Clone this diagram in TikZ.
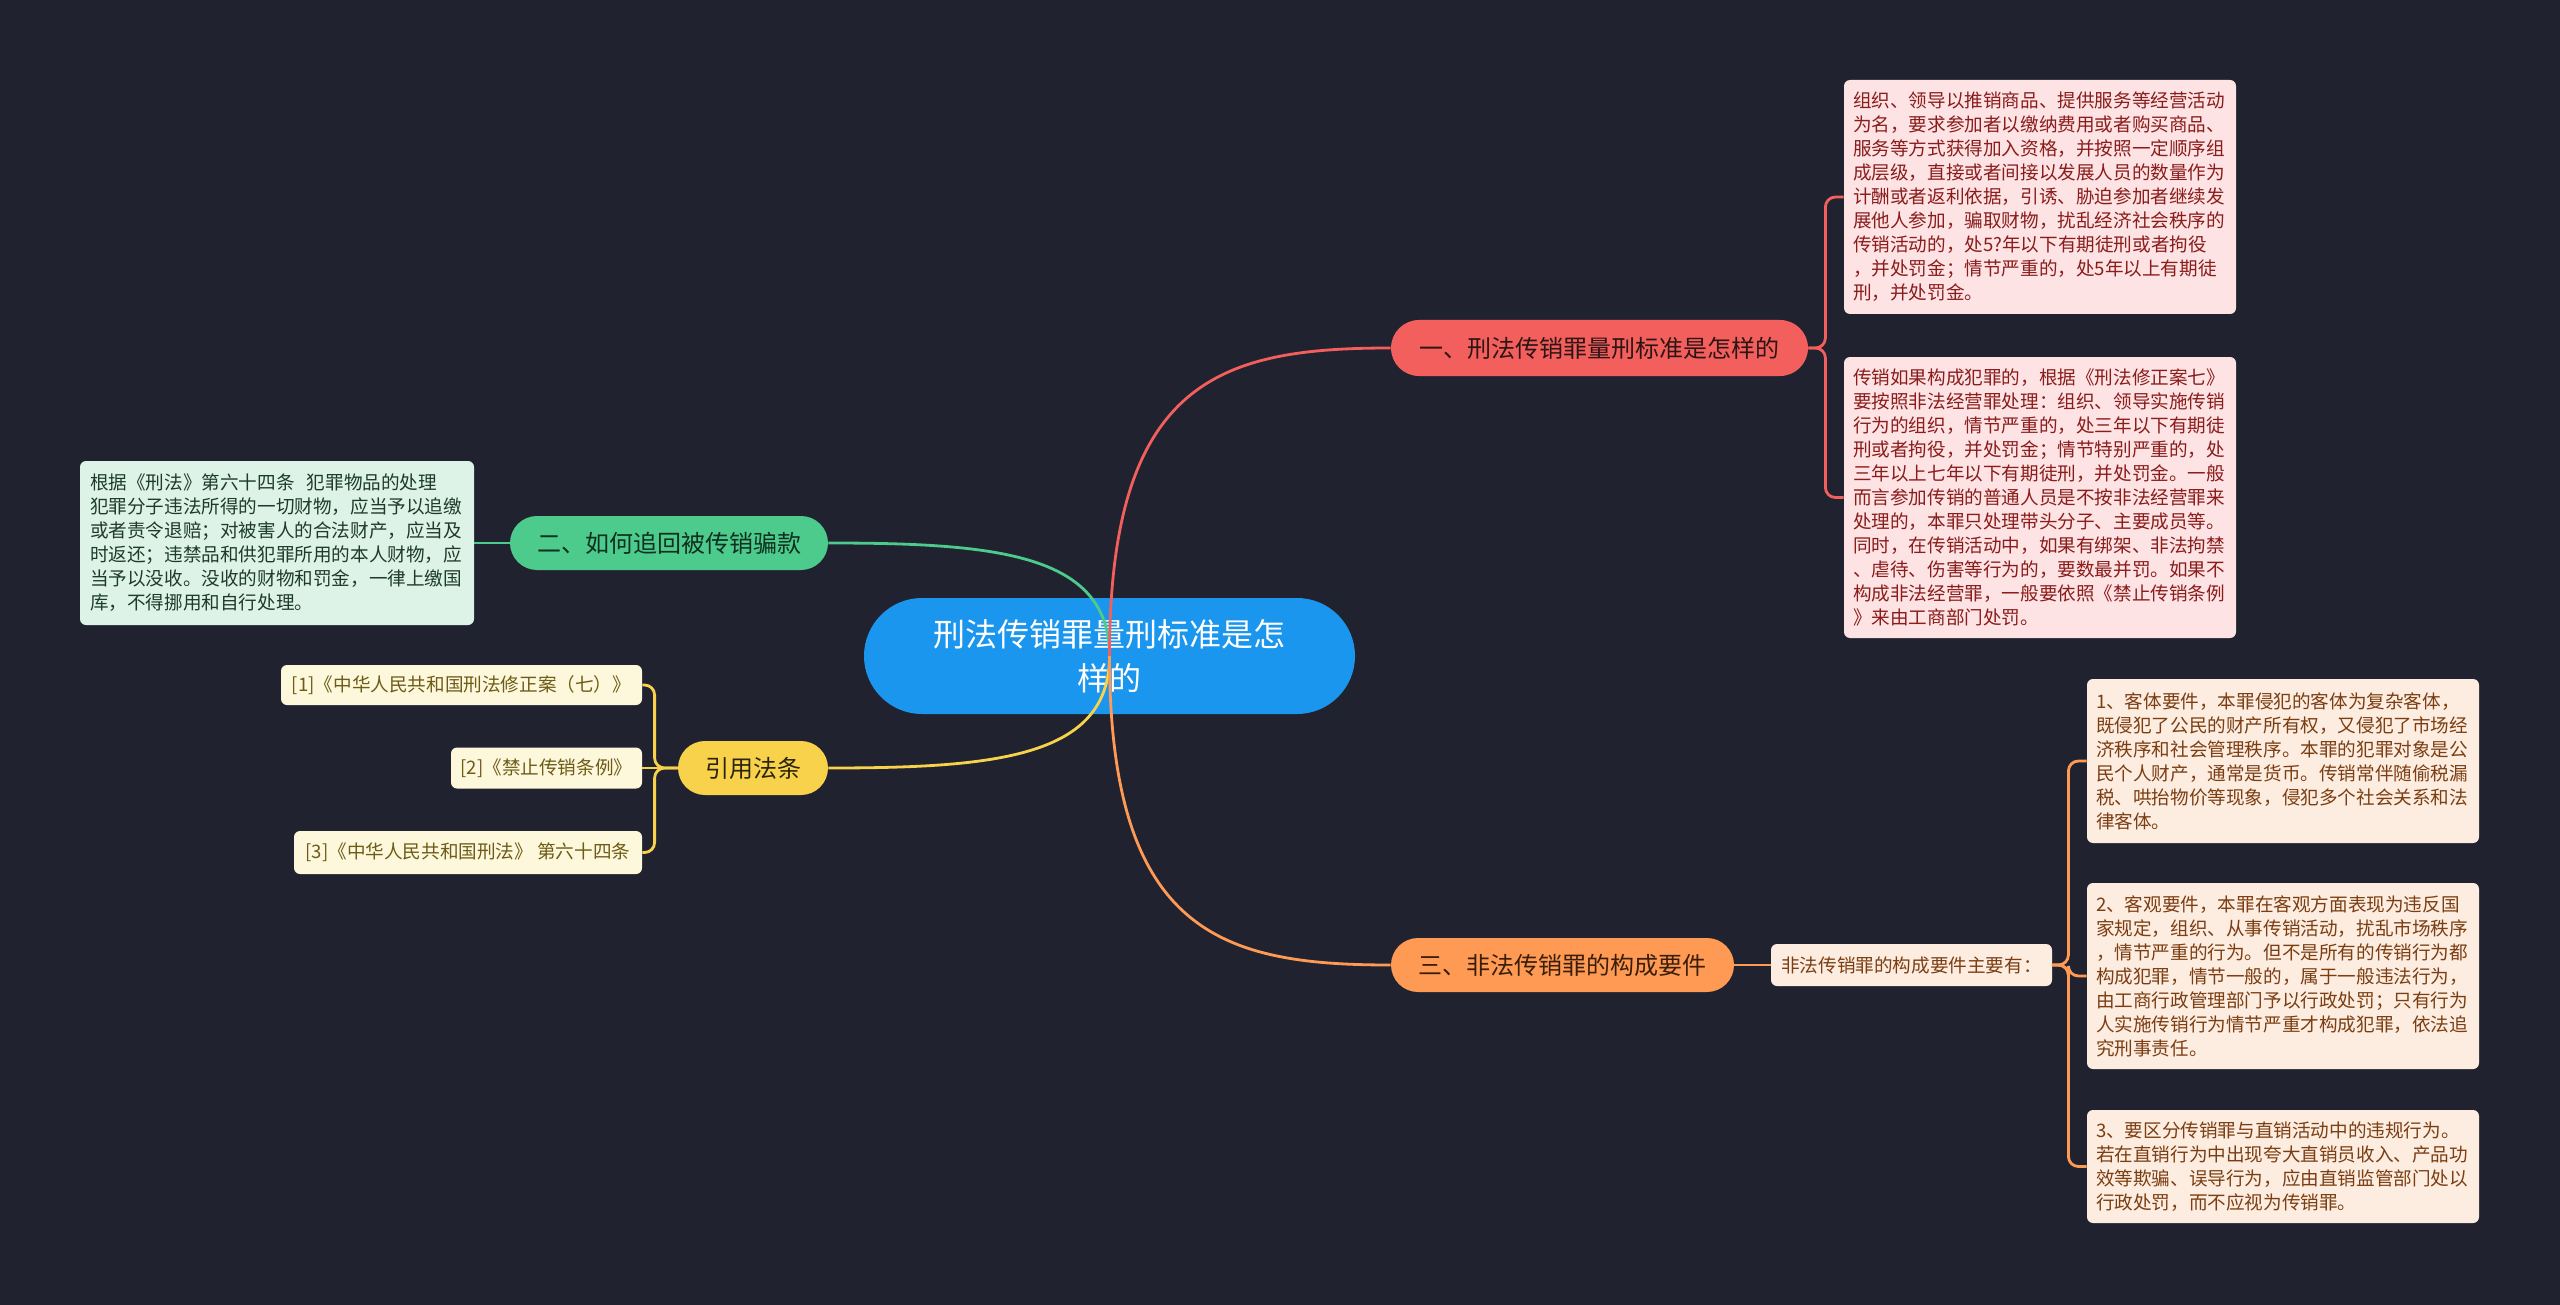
\documentclass[tikz,border=0pt]{standalone}
\usepackage{fontspec}
\setmainfont{Noto Sans CJK SC}
\definecolor{bg}{HTML}{20232F}
\definecolor{cblue}{HTML}{1A96EE}
\definecolor{cred}{HTML}{F25F5C}
\definecolor{corange}{HTML}{FF9A55}
\definecolor{cgreen}{HTML}{4CCB8D}
\definecolor{cyellow}{HTML}{F8D24A}
\definecolor{redtext}{HTML}{2E1515}
\definecolor{orangetext}{HTML}{3A1E08}
\definecolor{greentext}{HTML}{10301F}
\definecolor{yellowtext}{HTML}{2A2410}
\definecolor{pinkfill}{HTML}{FDE3E3}
\definecolor{pinktext}{HTML}{8A1C1C}
\definecolor{peachfill}{HTML}{FDECE0}
\definecolor{peachtext}{HTML}{7B3E12}
\definecolor{mintfill}{HTML}{DDF3E7}
\definecolor{minttext}{HTML}{1D3B2A}
\definecolor{creamfill}{HTML}{FDF7DC}
\definecolor{creamtext}{HTML}{6D5B16}
\begin{document}
\begin{tikzpicture}[x=0.5pt,y=-0.5pt,
  pill/.style={inner xsep=0pt, inner ysep=0pt, align=center, font=\fontsize{12}{14}\selectfont},
  box/.style={rounded corners=3pt, inner xsep=4.5pt, inner ysep=0pt, align=left, text width=187pt, font=\fontsize{9.3}{12}\selectfont},
  refbox/.style={rounded corners=3pt, inner xsep=0pt, inner ysep=0pt, align=center, font=\fontsize{9.3}{12}\selectfont},
  link/.style={line width=1.4pt},
  bracket/.style={line width=1.4pt, rounded corners=5pt}
  ]
\useasboundingbox (0,0) rectangle (2560,1305);
\fill[bg] (0,0) rectangle (2560,1305);

% central node
\node[fill=cblue, text=white, rounded corners=29pt, minimum width=245.5pt, minimum height=58pt,
  inner sep=0pt, align=center, font=\fontsize{16}{22}\selectfont] (c) at (1109.5,656)
  {刑法传销罪量刑标准是怎\\样的};

% main branches
\node[pill, fill=cred, text=redtext, rounded corners=14pt, minimum width=208.5pt, minimum height=28pt] (n1) at (1599.5,348) {一、刑法传销罪量刑标准是怎样的};
\node[pill, fill=corange, text=orangetext, rounded corners=13.5pt, minimum width=171.5pt, minimum height=27pt] (n3) at (1562.5,965) {三、非法传销罪的构成要件};
\node[pill, fill=cgreen, text=greentext, rounded corners=13.5pt, minimum width=159pt, minimum height=27pt] (n2) at (669,543) {二、如何追回被传销骗款};
\node[pill, fill=cyellow, text=yellowtext, rounded corners=13.5pt, minimum width=75pt, minimum height=27pt] (n4) at (753,768) {引用法条};

% branch 1 children
\node[box, fill=pinkfill, text=pinktext, minimum height=117pt] (r1) at (2040,197) {组织、领导以推销商品、提供服务等经营活动\\为名，要求参加者以缴纳费用或者购买商品、\\服务等方式获得加入资格，并按照一定顺序组\\成层级，直接或者间接以发展人员的数量作为\\计酬或者返利依据，引诱、胁迫参加者继续发\\展他人参加，骗取财物，扰乱经济社会秩序的\\传销活动的，处5?年以下有期徒刑或者拘役\\，并处罚金；情节严重的，处5年以上有期徒\\刑，并处罚金。};
\node[box, fill=pinkfill, text=pinktext, minimum height=140.5pt] (r2) at (2040,497.5) {传销如果构成犯罪的，根据《刑法修正案七》\\要按照非法经营罪处理：组织、领导实施传销\\行为的组织，情节严重的，处三年以下有期徒\\刑或者拘役，并处罚金；情节特别严重的，处\\三年以上七年以下有期徒刑，并处罚金。一般\\而言参加传销的普通人员是不按非法经营罪来\\处理的，本罪只处理带头分子、主要成员等。\\同时，在传销活动中，如果有绑架、非法拘禁\\、虐待、伤害等行为的，要数最并罚。如果不\\构成非法经营罪，一般要依照《禁止传销条例\\》来由工商部门处罚。};

% branch 3 children
\node[refbox, fill=peachfill, text=peachtext, minimum width=140.5pt, minimum height=21pt] (f0) at (1911.5,965) {非法传销罪的构成要件主要有：};
\node[box, fill=peachfill, text=peachtext, minimum height=82pt] (fa) at (2283,761) {1、客体要件，本罪侵犯的客体为复杂客体，\\既侵犯了公民的财产所有权，又侵犯了市场经\\济秩序和社会管理秩序。本罪的犯罪对象是公\\民个人财产，通常是货币。传销常伴随偷税漏\\税、哄抬物价等现象，侵犯多个社会关系和法\\律客体。};
\node[box, fill=peachfill, text=peachtext, minimum height=93pt] (fb) at (2283,976) {2、客观要件，本罪在客观方面表现为违反国\\家规定，组织、从事传销活动，扰乱市场秩序\\，情节严重的行为。但不是所有的传销行为都\\构成犯罪，情节一般的，属于一般违法行为，\\由工商行政管理部门予以行政处罚；只有行为\\人实施传销行为情节严重才构成犯罪，依法追\\究刑事责任。};
\node[box, fill=peachfill, text=peachtext, minimum height=56.5pt] (fc) at (2283,1166.5) {3、要区分传销罪与直销活动中的违规行为。\\若在直销行为中出现夸大直销员收入、产品功\\效等欺骗、误导行为，应由直销监管部门处以\\行政处罚，而不应视为传销罪。};

% branch 2 child
\node[box, fill=mintfill, text=minttext, inner xsep=5pt, minimum height=82pt] (g0) at (277,543) {根据《刑法》第六十四条~~犯罪物品的处理\\犯罪分子违法所得的一切财物，应当予以追缴\\或者责令退赔；对被害人的合法财产，应当及\\时返还；违禁品和供犯罪所用的本人财物，应\\当予以没收。没收的财物和罚金，一律上缴国\\库，不得挪用和自行处理。};

% references
\node[refbox, fill=creamfill, text=creamtext, minimum width=180.5pt, minimum height=20pt] (y1) at (461.5,685) {\relax[1]《中华人民共和国刑法修正案（七）》};
\node[refbox, fill=creamfill, text=creamtext, minimum width=95.5pt, minimum height=20.5pt] (y2) at (546.5,768) {\relax[2]《禁止传销条例》};
\node[refbox, fill=creamfill, text=creamtext, minimum width=174pt, minimum height=21.5pt] (y3) at (468,852.5) {\relax[3]《中华人民共和国刑法》 第六十四条};

% main curves
\draw[link, cgreen] (c.center) .. controls +(0,-102) and +(169,0) .. (n2.east);
\draw[link, cyellow] (c.center) .. controls +(0,101) and +(169,0) .. (n4.east);
\draw[link, cred] (c.center) .. controls +(0,-277) and +(-169,0) .. (n1.west);
\draw[link, corange] (c.center) .. controls +(0,277) and +(-169,0) .. (n3.west);

% brackets
\draw[bracket, cred] (n1.east) -- ++(17,0) |- (r1.west);
\draw[bracket, cred] (n1.east) -- ++(17,0) |- (r2.west);
\draw[link, corange] (n3.east) -- (f0.west);
\draw[bracket, corange] (f0.east) -- ++(16,0) |- (fa.west);
\draw[bracket, corange] (f0.east) -- ++(16,0) |- (fb.west);
\draw[bracket, corange] (f0.east) -- ++(16,0) |- (fc.west);
\draw[link, cgreen] (n2.west) -- (g0.east);
\draw[bracket, cyellow] (n4.west) -- ++(-23,0) |- (y1.east);
\draw[link, cyellow] (n4.west) -- (y2.east);
\draw[bracket, cyellow] (n4.west) -- ++(-23,0) |- (y3.east);
\end{tikzpicture}
\end{document}
